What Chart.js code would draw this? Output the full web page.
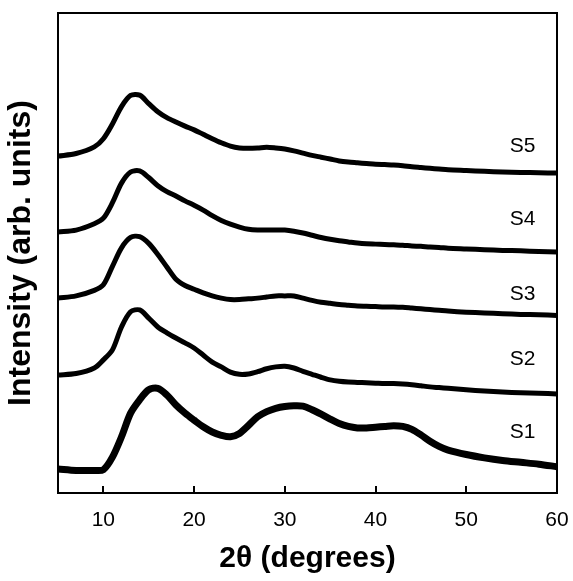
<!DOCTYPE html>
<html>
<head>
<meta charset="utf-8">
<script src="https://cdn.jsdelivr.net/npm/chart.js@4"></script>
<style>
  body { margin: 0; background: #fff; }
</style>
</head>
<body>
<canvas id="xrdChart" width="573" height="581"></canvas>
<script>
// 2 theta values (degrees) where the patterns were read
const angles = [5, 7, 9, 10, 11, 12, 13, 14, 15, 16, 17, 18, 19, 20, 21, 22, 23, 24, 25, 26, 27, 28, 29, 30,
  31, 32, 33, 34, 35, 36, 37, 38, 39, 40, 41, 42, 43, 44, 45, 46, 47, 48, 50, 52, 54, 56, 58, 60];

// intensities (arb. units, patterns already offset)
const s1 = [65, 61, 61, 63, 97, 152, 216, 252, 279, 283, 265, 238, 216, 197, 179, 165, 156, 152, 161, 183, 206, 220, 229, 234,
  236, 235, 225, 213, 200, 188, 180, 176, 176, 178, 180, 182, 180, 172, 157, 140, 126, 116, 104, 95, 88, 83, 78, 71];
const s2 = [319, 323, 338, 360, 387, 449, 490, 495, 473, 449, 433, 419, 406, 392, 373, 354, 341, 327, 321, 322, 328, 336, 341, 343,
  338, 329, 321, 313, 306, 302, 300, 299, 298, 297, 296, 296, 295, 293, 290, 287, 285, 283, 279, 276, 273, 271, 270, 268];
const s3 = [527, 533, 548, 563, 613, 663, 691, 693, 675, 645, 611, 578, 561, 551, 541, 533, 527, 523, 523, 525, 527, 530, 533, 533,
  533, 527, 521, 516, 513, 510, 508, 506, 505, 504, 503, 503, 502, 500, 498, 496, 494, 492, 489, 487, 485, 483, 482, 480];
const s4 = [706, 711, 728, 743, 785, 838, 868, 871, 853, 831, 815, 803, 790, 778, 765, 750, 737, 727, 719, 713, 711, 711, 711, 711,
  708, 703, 697, 691, 686, 682, 679, 676, 674, 673, 672, 671, 670, 668, 667, 665, 664, 662, 660, 658, 656, 655, 653, 652];
const s5 = [911, 918, 936, 958, 998, 1045, 1075, 1076, 1053, 1031, 1015, 1003, 992, 982, 970, 958, 947, 938, 933, 932, 933, 935, 933, 930,
  925, 919, 913, 908, 903, 898, 895, 893, 891, 889, 888, 887, 885, 882, 880, 878, 876, 874, 872, 870, 868, 867, 866, 865];

const sampleNames = ["S1", "S2", "S3", "S4", "S5"];
const labelLevels = [165, 362, 538, 741, 938];
const labelAngle = 56.2;
const xTicks = [10, 20, 30, 40, 50, 60];

function toPoints(values) {
  return values.map((v, i) => ({ x: angles[i], y: v }));
}

const allSeries = [s1, s2, s3, s4, s5];

const datasets = allSeries.map((values, i) => ({
  label: sampleNames[i],
  data: toPoints(values),
  borderColor: "#000",
  borderWidth: i == 0 ? 7 : 5,
  pointRadius: 0,
  tension: 0.3,
  fill: false,
}));

// frame, inward ticks and sample names
const framePlugin = {
  id: "frame",
  afterDatasetsDraw(chart) {
    const ctx = chart.ctx;
    const area = chart.chartArea;
    const xScale = chart.scales.x;
    const yScale = chart.scales.y;

    ctx.save();
    ctx.strokeStyle = "#000";
    ctx.lineWidth = 2;
    ctx.strokeRect(area.left, area.top, area.right - area.left, area.bottom - area.top);

    ctx.beginPath();
    for (var i = 0; i < xTicks.length - 1; i++) {
      var px = Math.round(xScale.getPixelForValue(xTicks[i]));
      ctx.moveTo(px, area.bottom);
      ctx.lineTo(px, area.bottom - 7);
    }
    ctx.stroke();

    ctx.fillStyle = "#000";
    ctx.font = "21px 'Liberation Sans', Arial, sans-serif";
    ctx.textAlign = "center";
    ctx.textBaseline = "middle";
    for (var j = 0; j < sampleNames.length; j++) {
      ctx.fillText(sampleNames[j], xScale.getPixelForValue(labelAngle), yScale.getPixelForValue(labelLevels[j]));
    }
    ctx.restore();
  },
};

new Chart(document.getElementById("xrdChart"), {
  type: "line",
  data: { datasets: datasets },
  options: {
    responsive: false,
    animation: false,
    layout: { padding: { top: 13, right: 16, left: 0, bottom: 0 } },
    plugins: {
      legend: { display: false },
      tooltip: { enabled: false },
    },
    scales: {
      x: {
        type: "linear",
        min: 5,
        max: 60,
        grid: { display: false, drawTicks: false },
        border: { display: false },
        afterBuildTicks: (scale) => {
          scale.ticks = xTicks.map((v) => ({ value: v }));
        },
        afterFit: (scale) => {
          scale.height = 88;
          scale.paddingLeft = 0;
          scale.paddingRight = 0;
        },
        ticks: {
          color: "#000",
          padding: 15,
          maxRotation: 0,
          font: { family: "'Liberation Sans', Arial, sans-serif", size: 21 },
        },
        title: {
          display: true,
          text: "2θ (degrees)",
          color: "#000",
          padding: { top: 0, bottom: 4 },
          font: { family: "'Liberation Sans', Arial, sans-serif", size: 30, weight: "bold" },
        },
      },
      y: {
        min: 0,
        max: 1298,
        grid: { display: false, drawTicks: false },
        border: { display: false },
        ticks: { display: false },
        afterFit: (scale) => {
          scale.width = 58;
          scale.paddingTop = 0;
          scale.paddingBottom = 0;
        },
        title: {
          display: true,
          text: "Intensity (arb. units)",
          color: "#000",
          padding: { top: 2, bottom: 0 },
          font: { family: "'Liberation Sans', Arial, sans-serif", size: 32, weight: "bold" },
        },
      },
    },
  },
  plugins: [framePlugin],
});
</script>
</body>
</html>
